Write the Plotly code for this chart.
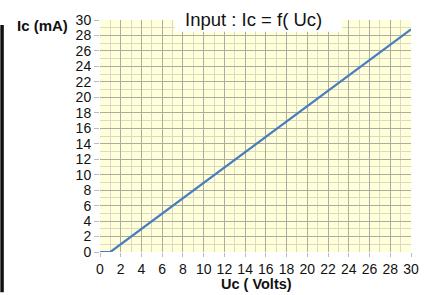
import plotly.graph_objects as go

uc_volts = [0, 1, 30]
ic_ma = [0, 0, 28.8]
x_ticks = list(range(0, 31, 2))
y_ticks = list(range(0, 31, 2))

W, H = 431, 295
L, R, T, B = 100, 19, 16, 43
pw, ph = W - L - R, H - T - B

def px(xp):
    return (xp - L) / pw

def py(yp):
    return (H - B - yp) / ph

fig = go.Figure()
fig.add_trace(go.Scatter(x=uc_volts, y=ic_ma, mode="lines",
                         line=dict(color="#4A7DBE", width=2.2), hoverinfo="skip"))

font = "Liberation Sans, Arial, sans-serif"
fig.update_layout(
    width=W, height=H, autosize=False,
    margin=dict(l=L, r=R, t=T, b=B),
    paper_bgcolor="white", plot_bgcolor="#FFFFDA",
    showlegend=False,
    font=dict(family=font, size=14, color="#111111"),
    xaxis=dict(range=[0, 30], tickvals=x_ticks, ticktext=[str(v) for v in x_ticks],
               showgrid=True, gridcolor="#ACACA2", gridwidth=1,
               minor=dict(dtick=1, showgrid=True, gridcolor="#DAD9C3", gridwidth=1),
               zeroline=False, showline=False, ticks="outside", ticklen=4,
               tickcolor="#BBBBBB", tickfont=dict(size=14), fixedrange=True),
    yaxis=dict(range=[0, 30], tickvals=y_ticks, ticktext=[str(v) for v in y_ticks],
               showgrid=True, gridcolor="#ACACA2", gridwidth=1,
               minor=dict(dtick=1, showgrid=True, gridcolor="#DAD9C3", gridwidth=1),
               zeroline=False, showline=False, ticks="outside", ticklen=5,
               tickcolor="#BBBBBB", tickfont=dict(size=14), fixedrange=True),
)

# title box
fig.add_shape(type="rect", xref="paper", yref="paper",
              x0=px(175), x1=px(343), y0=py(28), y1=py(-2),
              fillcolor="white", line=dict(width=0), layer="above")
fig.add_annotation(text="Input : Ic = f( Uc)", xref="paper", yref="paper",
                   x=px(254), y=py(15), showarrow=False,
                   xanchor="center", yanchor="middle",
                   font=dict(size=18.5, family=font, color="#111111"))
fig.add_annotation(text="<b>Ic (mA)</b>", xref="paper", yref="paper",
                   x=px(42), y=py(22), showarrow=False,
                   xanchor="center", yanchor="middle",
                   font=dict(size=15, family=font, color="#111111"))
fig.add_annotation(text="<b>Uc ( Volts)</b>", xref="paper", yref="paper",
                   x=px(257), y=py(285), showarrow=False,
                   xanchor="center", yanchor="middle",
                   font=dict(size=14.5, family=font, color="#111111"))
# left black bar
fig.add_shape(type="rect", xref="paper", yref="paper",
              x0=px(0), x1=px(3.5), y0=py(293), y1=py(21),
              fillcolor="#111111", line=dict(width=0), layer="above")

fig.write_html("out.html", config={"displayModeBar": False},
               post_script="document.body.style.margin='0';document.body.style.overflow='hidden';")
